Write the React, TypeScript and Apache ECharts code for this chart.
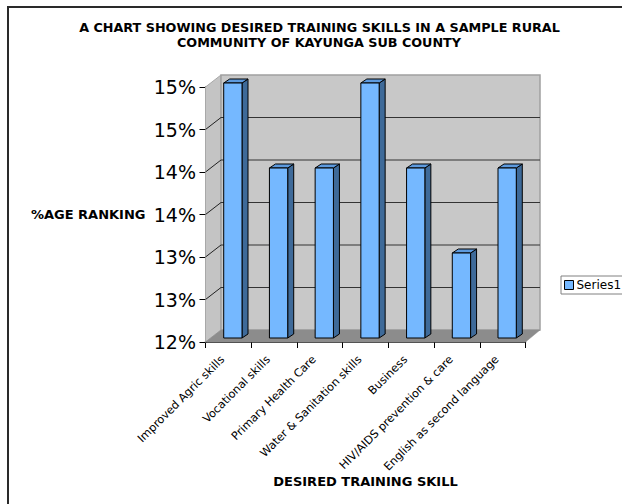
import React, { useEffect, useRef } from "react";
import * as echarts from "echarts";

const categories = [
  "Improved Agric skills",
  "Vocational skills",
  "Primary Health Care",
  "Water & Sanitation skills",
  "Business",
  "HIV/AIDS prevention & care",
  "English as second language",
];
const values = [15, 14, 14, 15, 14, 13, 14];
const wallTicks = [12, 12.5, 13, 13.5, 14, 14.5, 15];

const FONT = "'DejaVu Sans', Verdana, sans-serif";
const DX = 15.5; // wall depth
const DY = -12;

export default function App() {
  const ref = useRef<HTMLDivElement>(null);
  useEffect(() => {
    const chart = echarts.init(ref.current!, undefined, { renderer: "svg" });
    const L = 205.5, T = 87, W = 320, H = 255;
    const titleStyle = { fontFamily: FONT, fontSize: 12.75, fontWeight: "bold", color: "#000" };
    chart.setOption({
      animation: false,
      backgroundColor: "#fff",
      title: [
        {
          text: "A CHART SHOWING DESIRED TRAINING SKILLS IN A SAMPLE RURAL",
          left: 314.5,
          top: 16,
          textAlign: "center",
          textStyle: titleStyle,
        },
        {
          text: "COMMUNITY OF KAYUNGA SUB COUNTY",
          left: 314,
          top: 31,
          textAlign: "center",
          textStyle: titleStyle,
        },
      ],
      legend: {
        left: 561,
        top: 276,
        orient: "vertical",
        data: [{ name: "Series1", icon: "rect", itemStyle: { color: "#75b8ff", borderColor: "#000", borderWidth: 1 } }],
        itemWidth: 9,
        itemHeight: 9,
        itemGap: 0,
        padding: [3, 4, 3, 3],
        borderColor: "#808080",
        borderWidth: 1,
        textStyle: { fontFamily: FONT, fontSize: 12, color: "#000", padding: [0, 0, 0, -2] },
      },
      grid: { left: L, top: T, width: W, height: H },
      xAxis: {
        type: "category",
        data: categories,
        axisLine: { lineStyle: { color: "#000", width: 1.5 } },
        axisTick: { show: true, alignWithLabel: false, length: 6, lineStyle: { color: "#000" } },
        splitLine: { show: false },
        axisLabel: {
          interval: 0,
          rotate: 45,
          fontFamily: FONT,
          fontSize: 11.3,
          color: "#000",
          margin: 10,
          padding: [0, 8, 0, 0],
        },
        name: "DESIRED TRAINING SKILL",
        nameLocation: "middle",
        nameGap: 133,
        nameMoveOverlap: false,
        nameTextStyle: { fontFamily: FONT, fontSize: 13, fontWeight: "bold", color: "#000" },
      },
      yAxis: {
        type: "value",
        min: 12,
        max: 15,
        interval: 0.5,
        axisLine: { show: true, lineStyle: { color: "#000", width: 1.5 } },
        axisTick: { show: true, length: 6, lineStyle: { color: "#000" } },
        splitLine: { show: false },
        axisLabel: {
          fontFamily: FONT,
          fontSize: 19,
          color: "#000",
          margin: 9.5,
          formatter: (v: number) => Math.floor(v + 0.5) + "%",
        },
        name: "%AGE RANKING",
        nameLocation: "middle",
        nameRotate: 0,
        nameGap: 60,
        nameTextStyle: { fontFamily: FONT, fontSize: 13, fontWeight: "bold", color: "#000", align: "right" },
      },
      graphic: [
        {
          type: "rect",
          z: -10,
          silent: true,
          shape: { x: 8, y: 7, width: 640, height: 520 },
          style: { fill: "#fff", stroke: "#2a2a2a", lineWidth: 2 },
        },
      ],
      series: [
        {
          type: "custom",
          name: "walls",
          silent: true,
          z: 1,
          coordinateSystem: "cartesian2d",
          data: wallTicks.map((t) => [0, t]),
          encode: { x: 0, y: 1 },
          renderItem: (params: any, api: any) => {
            const t = api.value(1);
            const p = api.coord([0, t]);
            const x0 = L;
            const x1 = L + W;
            const y = p[1];
            const children: any[] = [];
            if (params.dataIndex === 0) {
              const yTop = T;
              const yBot = T + H;
              children.push(
                { type: "polygon", shape: { points: [[x0, yTop], [x0 + DX, yTop + DY], [x0 + DX, yBot + DY], [x0, yBot]] }, style: { fill: "#c4c4c4", stroke: "#a8a8a8", lineWidth: 1 } },
                { type: "rect", shape: { x: x0 + DX, y: yTop + DY, width: W - 1, height: H }, style: { fill: "#c8c8c8", stroke: "#a0a0a0", lineWidth: 1.5 } },
                { type: "polygon", shape: { points: [[x0, yBot], [x0 + DX, yBot + DY], [x1 + DX - 1, yBot + DY], [x1, yBot]] }, style: { fill: "#8c8c8c", stroke: "#8c8c8c", lineWidth: 0.5 } },
              );
            } else if (t < 15) {
              children.push(
                { type: "line", shape: { x1: x0, y1: y, x2: x0 + DX, y2: y + DY }, style: { stroke: "#222", lineWidth: 1 } },
                { type: "line", shape: { x1: x0 + DX, y1: y + DY, x2: x1 + DX - 1, y2: y + DY }, style: { stroke: "#333", lineWidth: 1 } },
              );
            }
            return { type: "group", children };
          },
        },
        {
          type: "custom",
          name: "Series1",
          z: 2,
          coordinateSystem: "cartesian2d",
          itemStyle: { color: "#75b8ff", borderColor: "#000", borderWidth: 1 },
          data: values.map((v, i) => [i, v]),
          encode: { x: 0, y: 1 },
          renderItem: (_params: any, api: any) => {
            const top = api.coord([api.value(0), api.value(1)]);
            const base = api.coord([api.value(0), 12]);
            const size = api.size([1, 0]);
            const bw = size[0] * 0.4;
            const ox = 4.5, oy = -4, dx = 6, dy = -4;
            const xl = top[0] + ox - bw / 2;
            const xr = xl + bw;
            const yt = top[1] + oy;
            const yb = base[1] + oy;
            const st = { stroke: "#000", lineWidth: 1, lineJoin: "round" };
            return {
              type: "group",
              children: [
                { type: "polygon", shape: { points: [[xr, yt], [xr + dx, yt + dy], [xr + dx, yb + dy], [xr, yb]] }, style: { fill: "#3e6a99", ...st } },
                { type: "polygon", shape: { points: [[xl, yt], [xl + dx, yt + dy], [xr + dx, yt + dy], [xr, yt]] }, style: { fill: "#5d9ade", ...st } },
                { type: "rect", shape: { x: xl, y: yt, width: bw, height: yb - yt }, style: { fill: "#75b8ff", ...st } },
              ],
            };
          },
        },
      ],
    });
    return () => chart.dispose();
  }, []);
  return <div ref={ref} style={{ position: "fixed", left: 0, top: 0, width: 622, height: 504 }} />;
}
